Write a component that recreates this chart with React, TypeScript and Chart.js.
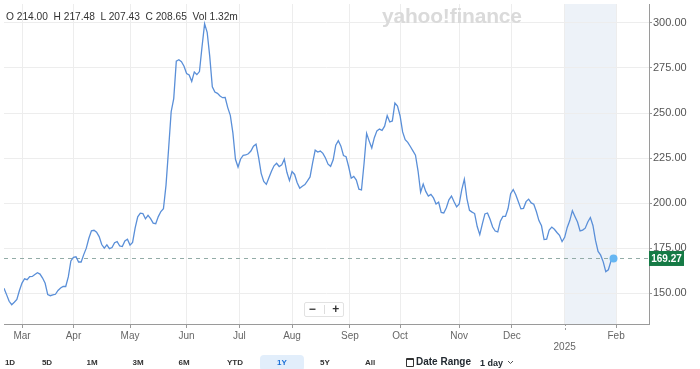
import React, { useEffect, useRef } from 'react';
import { Chart, registerables } from 'chart.js';

Chart.register(...registerables);

const FONT = '"Liberation Sans", Arial, Helvetica, sans-serif';

// ---- Data (one value per trading day) ----
const closePrices: number[] = [
  152.8, 149.2, 145.5, 143.6, 145.0, 146.5, 151.5, 155.6, 158.0, 157.5,
  159.2, 159.3, 160.4, 161.4, 160.6, 158.4, 155.5, 149.2, 148.6, 149.1,
  149.4, 151.5, 152.9, 153.8, 153.7, 159.0, 167.9, 169.9, 170.2, 167.3,
  167.3, 171.4, 175.0, 180.5, 184.6, 184.9, 183.8, 181.4, 177.0, 175.0,
  176.8, 174.7, 175.3, 178.0, 178.6, 176.2, 175.9, 179.0, 180.0, 176.7,
  178.2, 186.3, 192.4, 194.4, 194.2, 191.3, 193.2, 191.4, 188.9, 188.6,
  192.5, 195.3, 196.9, 210.0, 230.0, 250.7, 258.0, 278.8, 279.6, 278.5,
  276.0, 271.9, 271.1, 267.5, 272.8, 271.3, 273.0, 286.8, 299.5, 294.8,
  281.4, 264.6, 261.6, 260.9, 259.4, 258.5, 258.6, 253.0, 248.7, 239.0,
  224.3, 220.0, 224.5, 226.5, 226.7, 227.4, 228.9, 231.6, 232.7, 225.4,
  216.5, 212.0, 210.4, 214.1, 217.7, 220.7, 222.1, 220.3, 221.2, 224.4,
  217.1, 212.5, 217.5, 215.9, 211.3, 208.3, 209.4, 210.3, 212.3, 214.5,
  222.3, 229.4, 228.3, 228.9, 227.6, 225.0, 221.6, 220.4, 224.0, 232.1,
  234.7, 231.6, 226.4, 225.8, 220.3, 213.8, 214.8, 212.8, 207.7, 207.3,
  222.0, 238.7, 234.4, 230.6, 236.3, 240.1, 241.1, 240.4, 242.7, 248.5,
  245.0, 245.6, 255.5, 253.9, 248.5, 239.5, 235.2, 233.7, 231.4, 229.0,
  226.6, 217.8, 206.1, 210.6, 206.5, 203.9, 204.8, 202.9, 199.5, 200.5,
  194.8, 194.5, 197.4, 201.8, 203.9, 200.7, 197.9, 199.5, 207.5, 213.3,
  202.5, 196.0, 195.0, 194.2, 187.0, 182.5, 188.5, 194.0, 194.5, 191.0,
  186.7, 184.5, 184.0, 190.0, 192.6, 192.6, 197.0, 205.2, 207.5, 204.6,
  200.7, 196.8, 197.1, 200.8, 202.2, 200.1, 199.4, 195.3, 190.3, 187.4,
  179.8, 180.0, 185.1, 186.7, 185.5, 183.7, 182.1, 178.6, 181.0, 186.5,
  190.3, 195.8, 192.6, 189.5, 184.6, 185.0, 186.1, 189.5, 192.0, 187.6,
  179.3, 173.2, 171.1, 167.4, 162.0, 163.0, 167.8, 169.27,
];

// Month ticks (trading-day index of first session of the month)
const monthTickIndex: number[] = [7, 27, 49, 71, 91.5, 112, 134.5, 154, 177, 197.5, 218, 238];
const monthTickLabels: string[] = ['Mar', 'Apr', 'May', 'Jun', 'Jul', 'Aug', 'Sep', 'Oct', 'Nov', 'Dec', '2025', 'Feb'];
const yTickValues: number[] = [150, 175, 200, 225, 250, 275, 300];

const lastClose = 169.27;
const ohlcKeys: string[] = ['O', 'H', 'L', 'C', 'Vol'];
const ohlcValues: string[] = ['214.00', '217.48', '207.43', '208.65', '1.32m'];
const rangeLabels: string[] = ['1D', '5D', '1M', '3M', '6M', 'YTD', '1Y', '5Y', 'All'];
const activeRange = '1Y';

// ---- Layout constants ----
const X_MIN = 0;
const X_MAX = 250.8;
const Y_MIN = 132.9;
const Y_MAX = 310.5;
const rangeBtnCenters = [10, 47, 92, 138, 184, 235, 282, 325, 370];

export default function App() {
  const canvasRef = useRef<HTMLCanvasElement | null>(null);

  useEffect(() => {
    if (!canvasRef.current) return;
    const lastIdx = closePrices.length - 1;
    const points = closePrices.map((v, i) => ({ x: i, y: v }));
    const yearStartIdx = monthTickIndex[monthTickLabels.indexOf('2025')];
    const febIdx = monthTickIndex[monthTickLabels.indexOf('Feb')];

    const overlay = {
      id: 'yahooOverlay',
      beforeDraw(chart: any) {
        const { ctx, chartArea, scales } = chart;
        const x0 = scales.x.getPixelForValue(yearStartIdx);
        const x1 = scales.x.getPixelForValue(febIdx);
        ctx.save();
        ctx.fillStyle = '#edf2f8';
        ctx.fillRect(x0, chartArea.top, x1 - x0, chartArea.bottom - chartArea.top);
        ctx.restore();
      },
      beforeDatasetsDraw(chart: any) {
        const { ctx, chartArea, scales } = chart;
        const y = Math.round(scales.y.getPixelForValue(lastClose)) + 0.5;
        ctx.save();
        ctx.strokeStyle = '#93aca7';
        ctx.lineWidth = 1;
        ctx.setLineDash([4, 4]);
        ctx.beginPath();
        ctx.moveTo(chartArea.left, y);
        ctx.lineTo(chartArea.right, y);
        ctx.stroke();
        ctx.restore();
      },
      afterDraw(chart: any) {
        const { ctx, chartArea, scales } = chart;
        // dashed year tick
        const xj = Math.round(scales.x.getPixelForValue(yearStartIdx)) + 0.5;
        ctx.save();
        ctx.strokeStyle = '#9a9a9a';
        ctx.lineWidth = 1;
        ctx.setLineDash([2, 2]);
        ctx.beginPath();
        ctx.moveTo(xj, chartArea.bottom);
        ctx.lineTo(xj, chartArea.bottom + 8);
        ctx.stroke();
        ctx.restore();
        // price tag
        const yc = scales.y.getPixelForValue(lastClose);
        const left = chartArea.right;
        ctx.save();
        ctx.fillStyle = '#157a45';
        ctx.fillRect(left, yc - 7.5, 35, 15);
        ctx.fillStyle = '#ffffff';
        ctx.font = 'bold 10px ' + FONT;
        ctx.textAlign = 'center';
        ctx.textBaseline = 'middle';
        ctx.fillText(lastClose.toFixed(2), left + 17.5, yc + 0.5);
        ctx.restore();
      },
    };

    const chart = new Chart(canvasRef.current, {
      type: 'line',
      data: {
        datasets: [
          {
            data: points,
            borderColor: '#5a8fd8',
            borderWidth: 1.3,
            tension: 0,
            pointRadius: (c: any) => (c.dataIndex === lastIdx ? 4 : 0),
            pointBackgroundColor: '#66b6f2',
            pointBorderColor: '#66b6f2',
            pointBorderWidth: 0,
            fill: false,
          },
        ],
      },
      options: {
        animation: false,
        responsive: false,
        devicePixelRatio: 1,
        events: [],
        layout: { padding: { top: 3, left: 0, right: 0, bottom: 0 } },
        plugins: {
          legend: { display: false },
          tooltip: { enabled: false },
        },
        scales: {
          x: {
            type: 'linear',
            min: X_MIN,
            max: X_MAX,
            afterBuildTicks: (s: any) => {
              s.ticks = monthTickIndex.map((v) => ({ value: v }));
            },
            afterFit: (s: any) => {
              s.height = 45;
              s.paddingLeft = 0;
              s.paddingRight = 0;
            },
            ticks: {
              autoSkip: false,
              maxRotation: 0,
              minRotation: 0,
              padding: 3,
              color: '#666',
              font: { family: FONT, size: 10, lineHeight: 1.1 },
              callback: (v: any) => {
                const k = monthTickIndex.indexOf(Number(v));
                const lab = k >= 0 ? monthTickLabels[k] : '';
                return lab === '2025' ? ['', lab] : lab;
              },
            },
            grid: {
              color: '#ededed',
              tickLength: 4,
              tickColor: (c: any) =>
                c.tick && c.tick.value === yearStartIdx ? 'rgba(0,0,0,0)' : '#9a9a9a',
            },
            border: { color: '#9a9a9a' },
          },
          y: {
            position: 'right',
            min: Y_MIN,
            max: Y_MAX,
            afterBuildTicks: (s: any) => {
              s.ticks = yTickValues.map((v) => ({ value: v }));
            },
            afterFit: (s: any) => {
              s.width = 51;
              s.paddingTop = 0;
              s.paddingBottom = 0;
            },
            ticks: {
              padding: 1,
              color: '#555',
              font: { family: FONT, size: 11 },
              callback: (v: any) => Number(v).toFixed(2),
            },
            grid: { color: '#ededed', tickLength: 3, tickColor: '#9a9a9a' },
            border: { color: '#9a9a9a' },
          },
        },
      },
      plugins: [overlay],
    } as any);

    return () => chart.destroy();
  }, []);

  const header = ohlcKeys.map((k, i) => `${k} ${ohlcValues[i]}`).join('  ');

  return (
    <div
      style={{
        position: 'fixed',
        left: 0,
        top: 0,
        width: 700,
        height: 369,
        background: '#ffffff',
        overflow: 'hidden',
        fontFamily: FONT,
      }}
    >
      <canvas ref={canvasRef} width={700} height={369} style={{ position: 'absolute', left: 0, top: 0 }} />
      <div
        style={{
          position: 'absolute',
          left: 6,
          top: 11,
          fontSize: 10.2,
          lineHeight: '12px',
          color: '#333',
          whiteSpace: 'pre',
        }}
      >
        {header}
      </div>
      <div
        style={{
          position: 'absolute',
          left: 382,
          top: 4,
          fontSize: 21,
          lineHeight: '24px',
          fontWeight: 'bold',
          color: '#dadada',
          letterSpacing: -0.2,
          whiteSpace: 'pre',
        }}
      >
        yahoo!finance
      </div>
      {/* zoom control */}
      <div
        style={{
          position: 'absolute',
          left: 304,
          top: 302,
          width: 38,
          height: 13,
          border: '1px solid #e2e2e2',
          borderRadius: 2,
          background: '#fff',
          display: 'flex',
          alignItems: 'center',
          justifyContent: 'space-around',
          fontSize: 12,
          fontWeight: 'bold',
          color: '#333',
          lineHeight: '13px',
        }}
      >
        <span>−</span>
        <span style={{ width: 1, height: 9, background: '#ddd' }} />
        <span>+</span>
      </div>
      {/* range buttons */}
      {rangeLabels.map((r, i) => {
        const active = r === activeRange;
        return (
          <div
            key={r}
            style={{
              position: 'absolute',
              left: rangeBtnCenters[i] - 22,
              width: 44,
              top: 355,
              height: 16,
              lineHeight: '15px',
              textAlign: 'center',
              fontSize: 8,
              fontWeight: 'bold',
              color: active ? '#1b6fd6' : '#333',
              background: active ? '#e2eefb' : 'transparent',
              borderRadius: 4,
            }}
          >
            {r}
          </div>
        );
      })}
      {/* calendar icon */}
      <div
        style={{
          position: 'absolute',
          left: 406,
          top: 358,
          width: 6,
          height: 6,
          border: '1px solid #333',
          borderTopWidth: 2,
          borderRadius: 1,
        }}
      />
      <div
        style={{
          position: 'absolute',
          left: 416,
          top: 355,
          fontSize: 10,
          fontWeight: 'bold',
          color: '#232a31',
          lineHeight: '14px',
          whiteSpace: 'pre',
        }}
      >
        Date Range
      </div>
      <div
        style={{
          position: 'absolute',
          left: 480,
          top: 356,
          fontSize: 9,
          fontWeight: 'bold',
          color: '#232a31',
          lineHeight: '14px',
          whiteSpace: 'pre',
        }}
      >
        1 day
      </div>
      <svg style={{ position: 'absolute', left: 507, top: 360 }} width={7} height={5}>
        <polyline points="1,1 3.5,3.5 6,1" fill="none" stroke="#555" strokeWidth={1} />
      </svg>
    </div>
  );
}
